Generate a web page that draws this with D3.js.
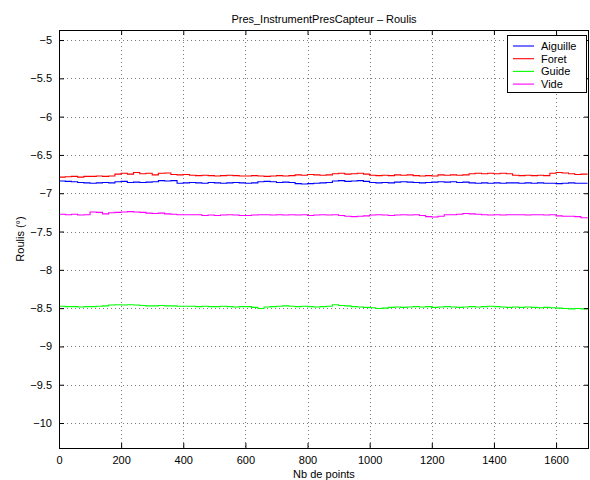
<!DOCTYPE html>
<html>
<head>
<meta charset="utf-8">
<script src="https://cdn.jsdelivr.net/npm/d3@7"></script>
<style>
  html, body { margin: 0; padding: 0; background: #fff; }
  svg { display: block; font-family: "Liberation Sans", Arial, Helvetica, sans-serif; }
</style>
</head>
<body>
<svg id="chart" width="590" height="480"></svg>
<script>
// ---- data ----
const seriesNames = ["Aiguille", "Foret", "Guide", "Vide"];
const seriesColors = ["#0000ff", "#ff0000", "#00ff00", "#ff00ff"];
const sampleStep = 20; // x index of the samples: 0, 20, 40, ... 1700

const aiguille = [
  -6.84,-6.845,-6.85,-6.86,-6.865,
  -6.87,-6.865,-6.86,-6.865,
  -6.85,-6.845,-6.86,-6.855,-6.86,-6.855,-6.85,
  -6.835,-6.84,
  -6.835,-6.87,-6.865,
  -6.86,-6.865,-6.87,-6.86,-6.865,-6.87,-6.865,-6.86,-6.865,
  -6.87,-6.865,-6.85,-6.845,-6.85,-6.86,-6.855,-6.86,
  -6.875,-6.88,-6.875,-6.87,-6.865,-6.86,
  -6.84,-6.835,-6.845,-6.84,-6.835,-6.845,
  -6.86,-6.865,-6.86,-6.865,-6.855,-6.85,-6.855,
  -6.86,-6.865,-6.86,-6.855,
  -6.85,-6.855,-6.85,-6.86,-6.855,
  -6.865,-6.87,-6.865,-6.87,-6.865,-6.87,-6.865,
  -6.865,-6.87,-6.865,-6.87,-6.865,-6.87,
  -6.87,-6.875,-6.87,-6.865,
  -6.87,-6.87,-6.865
];
const foret = [
  -6.79,-6.785,-6.78,-6.79,-6.78,
  -6.78,-6.775,-6.78,-6.775,
  -6.75,-6.74,-6.75,-6.73,-6.745,-6.74,-6.76,
  -6.74,-6.735,
  -6.755,-6.76,-6.755,
  -6.765,-6.77,-6.765,-6.77,-6.775,-6.77,-6.765,-6.77,-6.775,
  -6.775,-6.77,-6.775,-6.78,-6.775,-6.77,-6.775,-6.77,
  -6.76,-6.765,-6.755,-6.76,-6.765,-6.76,
  -6.745,-6.74,-6.75,-6.745,-6.74,-6.75,
  -6.765,-6.77,-6.765,-6.77,-6.76,-6.765,-6.76,
  -6.77,-6.775,-6.77,-6.775,
  -6.76,-6.765,-6.76,-6.765,-6.76,
  -6.745,-6.74,-6.745,-6.74,-6.745,-6.74,-6.745,
  -6.765,-6.77,-6.765,-6.77,-6.765,-6.77,
  -6.74,-6.73,-6.735,-6.745,
  -6.755,-6.75,-6.76
];
const guide = [
  -8.475,-8.48,-8.48,-8.485,-8.48,
  -8.48,-8.475,-8.47,-8.46,
  -8.455,-8.46,-8.455,-8.46,-8.465,-8.47,-8.47,
  -8.465,-8.47,
  -8.47,-8.475,-8.475,
  -8.475,-8.48,-8.475,-8.48,-8.48,-8.475,-8.48,-8.485,-8.48,
  -8.48,-8.49,-8.505,-8.485,-8.48,-8.475,-8.47,-8.475,
  -8.48,-8.475,-8.48,-8.485,-8.48,-8.475,
  -8.455,-8.465,-8.47,-8.48,-8.485,-8.49,
  -8.495,-8.505,-8.5,-8.49,-8.485,-8.49,-8.485,
  -8.48,-8.485,-8.48,-8.49,
  -8.485,-8.48,-8.485,-8.49,-8.485,
  -8.48,-8.485,-8.48,-8.475,-8.48,-8.485,-8.49,
  -8.485,-8.49,-8.485,-8.49,-8.495,-8.49,
  -8.495,-8.5,-8.505,-8.51,
  -8.505,-8.51,-8.505
];
const vide = [
  -7.275,-7.28,-7.275,-7.285,-7.28,
  -7.245,-7.25,-7.27,-7.255,
  -7.25,-7.245,-7.24,-7.245,-7.25,-7.26,-7.265,
  -7.26,-7.27,
  -7.275,-7.28,-7.28,
  -7.28,-7.28,-7.29,-7.285,-7.29,-7.285,-7.28,-7.285,-7.29,
  -7.29,-7.285,-7.28,-7.28,-7.285,-7.28,-7.285,-7.28,
  -7.285,-7.28,-7.29,-7.285,-7.28,-7.285,
  -7.28,-7.29,-7.3,-7.305,-7.3,-7.295,
  -7.285,-7.28,-7.285,-7.29,-7.285,-7.28,-7.285,
  -7.28,-7.29,-7.305,-7.31,
  -7.3,-7.28,-7.28,-7.275,-7.265,
  -7.27,-7.275,-7.28,-7.285,-7.28,-7.285,-7.28,
  -7.28,-7.28,-7.285,-7.28,-7.28,-7.285,
  -7.28,-7.295,-7.3,-7.3,
  -7.305,-7.32,-7.33
];
const seriesValues = [aiguille, foret, guide, vide];

const xTicks = [0, 200, 400, 600, 800, 1000, 1200, 1400, 1600];
const yTicks = [-5, -5.5, -6, -6.5, -7, -7.5, -8, -8.5, -9, -9.5, -10];
const xDomain = [0, 1706];
const yDomain = [-10.326, -4.869];

const titleText = "Pres_InstrumentPresCapteur \u2013 Roulis";
const xLabelText = "Nb de points";
const yLabelText = "Roulis (\u00b0)";

// ---- layout ----
const svg = d3.select("#chart");
const L = 59, R = 589, T = 30, B = 448;
const x = d3.scaleLinear().domain(xDomain).range([L, R]);
const y = d3.scaleLinear().domain(yDomain).range([B, T]);
const fmt = v => String(v).replace("-", "\u2212");

// grid
const grid = svg.append("g").attr("stroke", "#7a7a7a").attr("stroke-width", 1)
  .attr("stroke-dasharray", "1,3").attr("shape-rendering", "crispEdges");
grid.selectAll("line.gx").data(xTicks.filter(d => d > 0)).join("line")
  .attr("x1", d => Math.round(x(d)) + 0.5).attr("x2", d => Math.round(x(d)) + 0.5)
  .attr("y1", T).attr("y2", B);
grid.selectAll("line.gy").data(yTicks).join("line")
  .attr("x1", L).attr("x2", R)
  .attr("y1", d => Math.round(y(d)) + 0.5).attr("y2", d => Math.round(y(d)) + 0.5);

// series lines
const line = d3.line()
  .x((d, i) => x(i * sampleStep))
  .y(d => y(d))
  .curve(d3.curveStepAfter);
const plot = svg.append("g");
seriesValues.forEach((vals, k) => {
  plot.append("path").datum(vals)
    .attr("fill", "none")
    .attr("stroke", seriesColors[k])
    .attr("stroke-width", 1.1)
    .attr("d", line);
});

// axes (ticks inside, box)
const tickLen = 5;
const axB = d3.axisBottom(x).tickValues(xTicks).tickSize(-tickLen).tickPadding(8).tickFormat(fmt);
const axT = d3.axisTop(x).tickValues(xTicks).tickSize(-tickLen).tickFormat("");
const axL = d3.axisLeft(y).tickValues(yTicks).tickSize(-tickLen).tickPadding(7).tickFormat(fmt);
const axR = d3.axisRight(y).tickValues(yTicks).tickSize(-tickLen).tickFormat("");

function style(g) {
  g.select(".domain").remove();
  g.selectAll("line").attr("stroke", "#000").attr("stroke-width", 1);
  g.selectAll("text").attr("fill", "#000").attr("font-size", 11)
    .attr("font-family", "'Liberation Sans', Arial, sans-serif");
}
svg.append("g").attr("transform", `translate(0,${B})`).call(axB).call(style);
svg.append("g").attr("transform", `translate(0,${T})`).call(axT).call(style);
svg.append("g").attr("transform", `translate(${L},0)`).call(axL).call(style);
svg.append("g").attr("transform", `translate(${R},0)`).call(axR).call(style);

svg.append("rect").attr("x", L + 0.5).attr("y", T + 0.5)
  .attr("width", R - L - 1).attr("height", B - T)
  .attr("fill", "none").attr("stroke", "#000").attr("stroke-width", 1);

// title & labels
svg.append("text").attr("x", (L + R) / 2).attr("y", 23).attr("text-anchor", "middle")
  .attr("font-size", 11).text(titleText);
svg.append("text").attr("x", (L + R) / 2).attr("y", 478).attr("text-anchor", "middle")
  .attr("font-size", 11).text(xLabelText);
svg.append("text").attr("transform", `translate(24,${(T + B) / 2}) rotate(-90)`)
  .attr("text-anchor", "middle").attr("font-size", 11).text(yLabelText);

// legend
const lg = svg.append("g");
lg.append("rect").attr("x", 507.5).attr("y", 35.5).attr("width", 79).attr("height", 57)
  .attr("fill", "#fff").attr("stroke", "#000").attr("stroke-width", 1);
seriesNames.forEach((name, i) => {
  const yy = 46 + i * 12.7;
  lg.append("line").attr("x1", 513).attr("x2", 534).attr("y1", yy).attr("y2", yy)
    .attr("stroke", seriesColors[i]).attr("stroke-width", 1.1);
  lg.append("text").attr("x", 541).attr("y", yy + 4).attr("font-size", 11).text(name);
});
</script>
</body>
</html>
